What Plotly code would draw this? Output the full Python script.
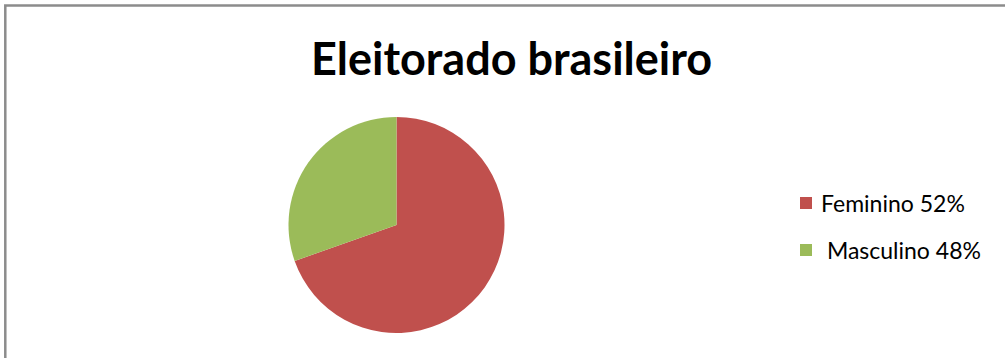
import plotly.graph_objects as go

labels = ["Feminino 52%", "Masculino 48%"]
legend_text = ["Feminino 52%", " Masculino 48%"]
values = [69.6, 30.4]
colors = ["#C0504D", "#9BBB59"]
title = "Eleitorado brasileiro"

W, H = 1005, 358
cx, cy, r = 396.5, 225.0, 108.0

fig = go.Figure(go.Pie(
    labels=labels, values=values, sort=False, direction="clockwise",
    rotation=0, textinfo="none", hoverinfo="label+percent",
    marker=dict(colors=colors, line=dict(width=0)),
    domain=dict(x=[(cx - r) / W, (cx + r) / W], y=[1 - (cy + r) / H, 1 - (cy - r) / H]),
    showlegend=False,
))

shapes = [dict(type="rect", xref="paper", yref="paper",
               x0=5.3 / W, x1=1.2, y0=-0.3, y1=1 - 5.6 / H,
               line=dict(color="#8C8C8C", width=2.5), fillcolor="rgba(0,0,0,0)")]
annotations = [dict(text=f"<b>{title}</b>", x=512 / W, y=1 - 58 / H, xref="paper", yref="paper",
                    xanchor="center", yanchor="middle", showarrow=False,
                    font=dict(family="Lato", size=45, color="#000000"))]
rows = [203, 250]
for i, t in enumerate(legend_text):
    yc = rows[i]
    shapes.append(dict(type="rect", xref="paper", yref="paper",
                       x0=800 / W, x1=812 / W, y0=1 - (yc + 6) / H, y1=1 - (yc - 6) / H,
                       line=dict(width=0), fillcolor=colors[i]))
    annotations.append(dict(text=t, x=819 / W, y=1 - yc / H, xref="paper", yref="paper",
                            xanchor="left", yanchor="middle", showarrow=False,
                            font=dict(family="Lato", size=23, color="#000000")))

fig.update_layout(width=W, height=H, margin=dict(l=0, r=0, t=0, b=0),
                  paper_bgcolor="white", plot_bgcolor="white",
                  shapes=shapes, annotations=annotations)
fig.write_html("out.html")
